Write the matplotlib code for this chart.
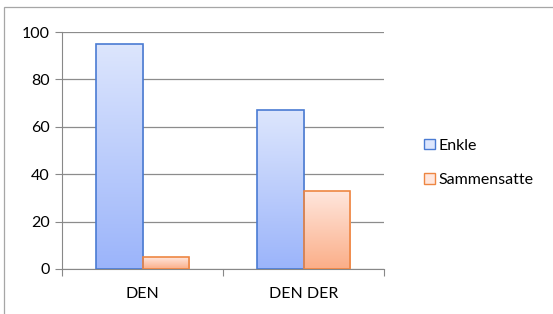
import numpy as np
import matplotlib.pyplot as plt
from matplotlib.patches import Rectangle
from matplotlib.colors import LinearSegmentedColormap

categories = ['DEN', 'DEN DER']
series = ['Enkle', 'Sammensatte']
enkle = [95, 67]
sammensatte = [5, 33]
y_ticks = [0, 20, 40, 60, 80, 100]

plt.rcParams['font.family'] = ['Lato', 'DejaVu Sans']

fig = plt.figure(figsize=(5.53, 3.14), dpi=100)
# outer chart border
fig.patches.append(Rectangle((4 / 553, -0.05), 1.0, 1 - 7 / 314 + 0.05,
                             transform=fig.transFigure, fill=False,
                             edgecolor='#a6a6a6', lw=0.9))

ax = fig.add_axes([62 / 553, 1 - 269 / 314, (384 - 62) / 553, (269 - 32) / 314])

styles = {
    'Enkle': ('#dde6fd', '#9bb4fa', '#4a7bd3'),
    'Sammensatte': ('#ffe7de', '#fbae88', '#ee8642'),
}

width = 0.286
x = np.arange(len(categories))
for i, (name, vals) in enumerate(zip(series, [enkle, sammensatte])):
    top_c, bot_c, edge = styles[name]
    cmap = LinearSegmentedColormap.from_list(name, [bot_c, top_c])
    bars = ax.bar(x - width / 2 + i * width, vals, width, color='none',
                  edgecolor=edge, lw=1.2, zorder=3, label=name)
    for b in bars:
        bx, by = b.get_x(), b.get_y()
        bw, bh = b.get_width(), b.get_height()
        grad = np.linspace(0, 1, 256).reshape(-1, 1)
        im = ax.imshow(grad, cmap=cmap, origin='lower', aspect='auto',
                       extent=(bx, bx + bw, by, by + bh), zorder=2)
        im.set_clip_path(Rectangle((bx, by), bw, bh, transform=ax.transData))
        # light shadow
        ax.add_patch(Rectangle((bx + 0.012, by), bw, bh - 0.6, facecolor='#000000',
                               alpha=0.12, lw=0, zorder=1))

ax.set_xlim(-0.5, 1.5)
ax.set_ylim(0, 100)
ax.set_yticks(y_ticks)
ax.set_xticks([-0.5, 0.5, 1.5])
ax.set_xticklabels([])
ax.set_xticks(x, minor=True)
ax.set_xticklabels(categories, minor=True)
ax.tick_params(axis='x', which='minor', length=0, pad=13)
ax.tick_params(axis='x', which='major', length=5, color='#888888', direction='out')
ax.tick_params(axis='y', length=5, color='#888888', pad=4)
ax.tick_params(which='both', labelsize=11.5, colors='black')
ax.tick_params(which='major', color='#888888')
ax.yaxis.grid(True, color='#8c8c8c', lw=0.9, zorder=0)
ax.set_axisbelow(True)
for side in ['top', 'right']:
    ax.spines[side].set_visible(False)
ax.spines['left'].set_color('#888888')
ax.spines['bottom'].set_color('#888888')

handles = [Rectangle((0, 0), 1, 1, facecolor=styles[n][0], edgecolor=styles[n][2], lw=1)
           for n in series]
fig.legend(handles, series, loc='center left', bbox_to_anchor=(410 / 553, 1 - 163 / 314),
           frameon=False, fontsize=11.5, handlelength=0.65, handleheight=0.65,
           handletextpad=0.25, labelspacing=1.3)

fig.savefig('out.png', dpi=100)
